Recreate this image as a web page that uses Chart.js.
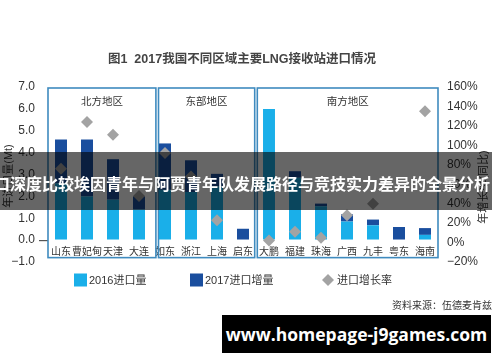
<!DOCTYPE html>
<html><head><meta charset="utf-8">
<script src="https://cdn.jsdelivr.net/npm/chart.js@4/dist/chart.umd.min.js"></script>
<style>
html,body{margin:0;padding:0;background:#fff;width:500px;height:362px;overflow:hidden;}
#wrap{position:absolute;left:0;top:0;width:500px;height:362px;}
canvas{position:absolute;left:0;top:0;}
.t{position:absolute;white-space:nowrap;font-family:'Liberation Sans','Noto Sans CJK SC',sans-serif;}
#title{left:0;width:484px;text-align:center;top:48px;font-size:12.5px;font-weight:bold;color:#444;}
#source{right:8px;top:297px;font-size:10px;color:#333;}
#band{left:0;top:152px;width:492px;height:58px;background:rgba(0,0,0,0.6);}
#bandtext{left:-6px;top:172px;font-size:16px;font-weight:bold;color:#fff;font-family:'Noto Sans CJK SC',sans-serif;line-height:22px;}
#wm{left:222px;top:315px;width:269px;height:38px;background:#000;color:#fff;font-family:'Open Sans',sans-serif;font-weight:bold;font-size:17.5px;line-height:38px;text-align:center;}
</style></head>
<body>
<div id="wrap">
<canvas id="c" width="500" height="362"></canvas>
<div class="t" id="title">图1&nbsp;&nbsp;2017我国不同区域主要LNG接收站进口情况</div>
<div class="t" id="source">资料来源：伍德麦肯兹</div>
<div class="t" id="band"></div>
<div class="t" id="bandtext">口深度比较埃因青年与阿贾青年队发展路径与竞技实力差异的全景分析</div>
<div class="t" id="wm">www.homepage-j9games.com</div>
</div>
<script>
const categories = ['山东','曹妃甸','天津','大连','如东','浙江','上海','启东','大鹏','福建','珠海','广西','九丰','粤东','海南'];
const imports2016 = [2.6, 2.0, 1.85, 1.4, 2.3, 2.2, 2.45, 0, 6.0, 2.85, 1.55, 0.85, 0.68, 0, 0.24];
const increase2017 = [2.0, 2.6, 1.85, 0.6, 2.12, 1.45, 0.58, 0.52, 0, 0.3, 0.12, 0.33, 0.26, 0.6, 0.31];
const growthRate = [76, 124, 111, 48, 92, 68, 23, null, 2, 11, 5, 28, 40, null, 135];
const seriesNames = ['2016进口量', '2017进口增量', '进口增长率'];
const regionNames = ['北方地区', '东部地区', '南方地区'];
const regionFirst = [0, 4, 8];
const regionLast = [3, 7, 14];
const leftAxisTitle = '年进口量(Mt)';
const rightAxisTitle = '年增长率(同比)';

const LIGHT = '#1aafe9', DARK = '#1a4e9e', GREY = '#a3a3a3', BOXC = '#3f8bbf';
const FONT = "'Liberation Sans','Noto Sans CJK SC',sans-serif";

const extrasPlugin = {
  id: 'extras',
  beforeDatasetsDraw(chart) {
    const {ctx, scales: {x, y}} = chart;
    const unit = x.getPixelForValue(1) - x.getPixelForValue(0);
    const padL = [0, 0.25, 0.05], padR = [0.15, -0.05, 0];
    const top = chart.chartArea.top + 1;
    const bottom = y.getPixelForValue(-0.8);
    ctx.save();
    ctx.strokeStyle = BOXC; ctx.lineWidth = 1.6;
    regionNames.forEach((name, i) => {
      const l = x.getPixelForValue(regionFirst[i]) - unit / 2 + padL[i] * unit;
      const r = x.getPixelForValue(regionLast[i]) + unit / 2 + padR[i] * unit;
      ctx.strokeRect(l, top, r - l, bottom - top);
      ctx.fillStyle = '#333';
      ctx.font = '10.5px ' + FONT;
      ctx.textAlign = 'center'; ctx.textBaseline = 'middle';
      ctx.fillText(name, (l + r) / 2, top + 14);
    });
    ctx.restore();
  },
  afterDraw(chart) {
    const {ctx} = chart;
    ctx.save();
    ctx.fillStyle = '#333';
    ctx.font = '11px ' + FONT;
    ctx.textAlign = 'center'; ctx.textBaseline = 'middle';
    ctx.save(); ctx.translate(9, 176); ctx.rotate(-Math.PI / 2); ctx.fillText(leftAxisTitle, 0, 0); ctx.restore();
    ctx.save(); ctx.translate(484, 187); ctx.rotate(-Math.PI / 2); ctx.fillText(rightAxisTitle, 0, 0); ctx.restore();
    const ly = 280;
    const xs = [74, 190, 322];
    ctx.textAlign = 'left';
    chart.data.datasets.forEach((ds, i) => {
      const x0 = xs[i];
      ctx.fillStyle = ds.backgroundColor;
      if (i < 2) {
        ctx.fillRect(x0, ly - 6.5, 13, 13);
      } else {
        ctx.beginPath();
        ctx.moveTo(x0 + 6, ly - 6); ctx.lineTo(x0 + 12, ly); ctx.lineTo(x0 + 6, ly + 6); ctx.lineTo(x0, ly);
        ctx.closePath(); ctx.fill();
      }
      ctx.fillStyle = '#333';
      ctx.fillText(ds.label, x0 + 15, ly + 0.5);
    });
    ctx.restore();
  }
};

new Chart(document.getElementById('c'), {
  data: {
    labels: categories,
    datasets: [
      {type: 'bar', label: seriesNames[0], data: imports2016, backgroundColor: LIGHT, yAxisID: 'y', stack: 's', order: 2},
      {type: 'bar', label: seriesNames[1], data: increase2017, backgroundColor: DARK, yAxisID: 'y', stack: 's', order: 2},
      {type: 'line', label: seriesNames[2], data: growthRate, backgroundColor: GREY, borderColor: GREY, yAxisID: 'y1',
       showLine: false, pointStyle: 'rectRot', pointRadius: 6, pointHoverRadius: 6, pointBorderWidth: 0, order: 1}
    ]
  },
  options: {
    responsive: false,
    animation: false,
    events: [],
    layout: {padding: {top: 87, bottom: 100, left: 0, right: 0}},
    plugins: {legend: {display: false}, tooltip: {enabled: false}},
    datasets: {bar: {categoryPercentage: 1, barPercentage: 0.46}},
    scales: {
      x: {
        stacked: true,
        position: {y: 0},
        grid: {display: false, drawTicks: false},
        border: {display: false},
        ticks: {color: '#333', font: {size: 10, family: FONT}, padding: 6, maxRotation: 0, autoSkip: false}
      },
      y: {
        stacked: true,
        position: 'left',
        min: -1, max: 7,
        afterFit(s) { s.width = 48; },
        grid: {drawOnChartArea: false, drawTicks: true, tickLength: 9, lineWidth: 1.2,
               color: c => (c.tick && c.tick.value === 0) ? '#555' : 'rgba(0,0,0,0)'},
        border: {display: false},
        ticks: {stepSize: 1, color: '#333', font: {size: 12, family: FONT}, padding: 4,
                callback: v => (v < 0 ? '\u2212' : '') + Math.abs(v).toFixed(1)}
      },
      y1: {
        position: 'right',
        min: -20, max: 160,
        afterFit(s) { s.width = 62; },
        grid: {display: false, drawTicks: false},
        border: {display: false},
        ticks: {stepSize: 20, color: '#333', font: {size: 12, family: FONT}, padding: 9,
                callback: v => (v < 0 ? '\u2212' : '') + Math.abs(v) + '%'}
      }
    }
  },
  plugins: [extrasPlugin]
});
</script>
</body></html>
